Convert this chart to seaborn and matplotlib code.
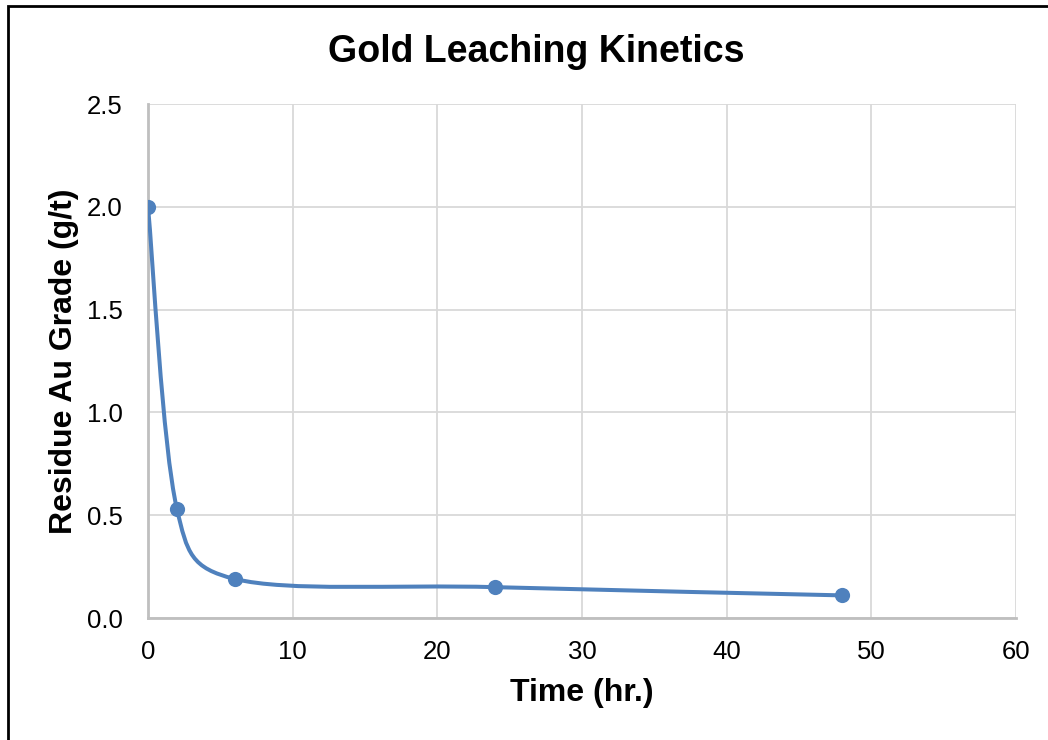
import matplotlib
matplotlib.use("Agg")
import matplotlib.pyplot as plt
from matplotlib.path import Path
from matplotlib.patches import PathPatch, Rectangle
import numpy as np
import pandas as pd
import seaborn as sns

# data
time_hr = [0, 2, 6, 24, 48]
residue_au = [2.0, 0.53, 0.19, 0.15, 0.11]
x_ticks = [0, 10, 20, 30, 40, 50, 60]
y_ticks = [0.0, 0.5, 1.0, 1.5, 2.0, 2.5]

blue = "#4F81BD"

sns.set_style("white")
plt.rcParams['font.family'] = ['Liberation Sans', 'DejaVu Sans']
plt.rcParams['text.color'] = 'black'
plt.rcParams['axes.labelcolor'] = 'black'

df = pd.DataFrame({"time": time_hr, "residue": residue_au})

fig = plt.figure(figsize=(10.48, 7.4), dpi=100)
ax = fig.add_axes([148 / 1048, 1 - 618 / 740, 868 / 1048, 514 / 740])
ax.set_xlim(0, 60)
ax.set_ylim(0, 2.5)


def excel_smooth(xs, ys, sx, sy):
    # bezier segments like Excel's "smoothed line", worked out in pixel space
    pts = np.column_stack([np.asarray(xs) * sx, np.asarray(ys) * sy]).astype(float)
    n = len(pts)
    verts = [pts[0]]
    codes = [Path.MOVETO]
    for i in range(n - 1):
        p_prev = pts[max(i - 1, 0)]
        p0 = pts[i]
        p1 = pts[i + 1]
        p_next = pts[min(i + 2, n - 1)]
        seg = np.linalg.norm(p1 - p0)
        t0 = p1 - p_prev
        t1 = p_next - p0
        h0 = min(np.linalg.norm(t0) / 6.0, seg / 2.0)
        h1 = min(np.linalg.norm(t1) / 6.0, seg / 2.0)
        c1 = p0 + t0 / np.linalg.norm(t0) * h0
        c2 = p1 - t1 / np.linalg.norm(t1) * h1
        verts += [c1, c2, p1]
        codes += [Path.CURVE4] * 3
    verts = np.array(verts) / [sx, sy]
    return Path(verts, codes)


sx = 868 / 60
sy = 514 / 2.5
ax.add_patch(PathPatch(excel_smooth(df["time"], df["residue"], sx, sy), facecolor="none",
                       edgecolor=blue, lw=2.9, capstyle="round", zorder=3))
sns.scatterplot(data=df, x="time", y="residue", ax=ax, color=blue, s=120,
                edgecolor=blue, linewidth=0, zorder=4)

ax.set_xlim(0, 60)
ax.set_ylim(0, 2.5)
ax.set_xticks(x_ticks)
ax.set_yticks(y_ticks)
ax.set_yticklabels([f"{v:.1f}" for v in y_ticks])
ax.tick_params(axis="both", length=0, labelsize=18.5, colors="black")
ax.tick_params(axis="x", pad=15.5)
ax.tick_params(axis="y", pad=18)

ax.grid(True, color="#D9D9D9", lw=1.3)
ax.set_axisbelow(True)
for side in ["top", "right"]:
    ax.spines[side].set_visible(False)
for side in ["left", "bottom"]:
    ax.spines[side].set_color("#BFBFBF")
    ax.spines[side].set_linewidth(2)

ax.set_xlabel("Time (hr.)", fontsize=23, fontweight="bold", va="center")
ax.set_ylabel("Residue Au Grade (g/t)", fontsize=23, fontweight="bold", va="center")
ax.xaxis.set_label_coords(0.5, (618 - 693) / 514)
ax.yaxis.set_label_coords((64 - 148) / 868, 0.5)
fig.text(536 / 1048, 1 - 52 / 740, "Gold Leaching Kinetics", fontsize=27,
         fontweight="bold", ha="center", va="center")

# chart frame (right and bottom edges run off the image)
fig.patches.append(Rectangle((8 / 1048, -0.1), 1.2, 1 - 6 / 740 + 0.1,
                             transform=fig.transFigure, fill=False,
                             edgecolor="black", lw=2))

fig.savefig("out.png", dpi=100)
